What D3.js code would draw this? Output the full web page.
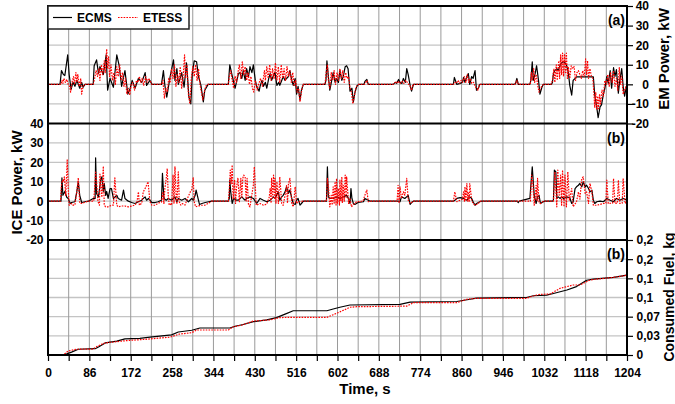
<!DOCTYPE html>
<html><head><meta charset="utf-8">
<script src="https://cdn.jsdelivr.net/npm/d3@7"></script>
<style>
html,body{margin:0;padding:0;background:#fff;}
svg text{font-family:"Liberation Sans",Arial,Helvetica,sans-serif;font-weight:bold;fill:#000;}
</style></head><body>
<svg id="chart" width="675" height="404"></svg>
<script>
// ---- data ----
const seriesNames = ["ECMS", "ETESS"];
const timeTickLabels = [0, 86, 172, 258, 344, 430, 516, 602, 688, 774, 860, 946, 1032, 1118, 1204];
const powerTicks = [-20, -10, 0, 10, 20, 30, 40];
const fuelTicks = [0, 1 / 30, 2 / 30, 0.1, 4 / 30, 5 / 30, 0.2];
const fuelTickLabels = ["0", "0,03", "0,07", "0,1", "0,1", "0,2", "0,2"];

// EM power, kW  [time s, value]
const emECMS = [[0,0],[25,0],[28,7],[32,5],[35,4.5],[41,15],[44,5],[48,-2.5],[52,1],[56,-1],[60,2],[63,0],[66,-2],[70,1],[73,-1.5],[77,0],
[94,0],[96,9.5],[101,12.5],[105,5.5],[108,9],[115,5],[121,15],[124,-3],[129,3],[136,-1.5],[143,15],[148,9.5],[153,-1],[160,7],[166,-5],[171,-2],[175,2],[181,-2],[188,3],[195,1],[202,6],[205,-0.5],[212,2],[216,0],
[236,0],[240,7],[243,-0.5],[247,-6.5],[254,4],[261,12.5],[264,2],[268,8],[271,0],[278,6],[283,-1.5],[288,11],[293,-6.5],[297,-10],[300,5.5],[304,12],[309,11.5],[313,4],[318,-0.5],[323,-9],[326,-3],[333,0],
[375,0],[378,10],[382,5.5],[389,-2],[396,5.5],[399,6],[403,3],[406,7],[410,2],[413,8],[417,4],[420,9],[424,6],[427,10],[431,2],[434,-1],[439,-3.5],[441,-1],[445,2],[448,-1],[452,1],[455,-2],[459,3],[462,5.5],[465,2],[468,4],[472,6],[476,-0.5],[480,1],[482,-0.5],[486,2],[489,4],[493,2],[496,3],[500,4],[503,7],[507,2],[510,-0.5],[514,3],[517,-5],[520,-1],[524,-8],[527,-3],[531,0],
[576,0],[578,2],[580,12],[583,4],[586,-3],[590,2],[593,6],[597,1],[600,3],[604,1],[607,7],[611,2],[614,4],[618,9],[621,9.5],[624,8],[628,-3.5],[632,-2],[635,-9],[638,-4.5],[642,-1],[646,0],
[657,0],[659,1.5],[663,2.5],[666,0],[718,0],[722,1],[725,0.5],[729,2.5],[732,1],[736,0.5],[739,3],[743,1],[746,8],[749,5],[753,-0.5],[756,-3.5],[760,0],
[843,0],[845,3.5],[850,0],[857,0.5],[862,1],[864,3.5],[867,1],[871,4],[874,5.5],[877,0],[881,4],[884,3],[888,7],[891,-3],[895,-2],[898,0],
[971,0],[973,1.2],[975,3],[978,0],[1002,0],[1004,2],[1007,11.5],[1009,2],[1013,5.5],[1016,9.5],[1020,2],[1023,-5],[1027,-1.5],[1030,0],
[1047,0],[1049,1],[1051,5.5],[1054,7],[1058,8],[1061,7],[1065,9.8],[1068,11],[1072,11.5],[1075,11],[1078,10],[1082,6],[1085,-0.5],[1089,-5.5],[1092,2],[1096,3],[1099,3.8],[1134,3.8],[1137,-5.5],[1141,-11.5],[1144,-17],[1148,-11.5],[1151,-10.5],[1155,-5],[1158,-2],[1162,4],[1165,0.5],[1169,7],[1172,-2],[1176,8.5],[1179,4],[1182,7.5],[1186,-4.5],[1189,2],[1193,8],[1196,-1],[1199,-6],[1202,-2],[1204,0]];

const emETESS = [[0,0],[27,0],[29,2],[31,0.5],[33,3],[36,1],[39,2.5],[42,0],[45,-1],[47,-4],[50,1],[53,4],[55,0],[58,6],[60,1],[62,5],[65,-1],[68,3],[70,-5],[73,-1],[76,0],
[94,0],[97,3],[100,7],[103,4],[106,8],[108,2],[111,10],[114,5],[117,12],[119,6],[122,18],[124,8],[126,14],[128,4],[131,10],[134,2],[137,6],[140,0],[143,9],[146,4],[149,10],[152,2],[155,6],[158,-1],[161,3],[164,-5],[167,-2],[170,-5.5],[173,0],[176,1],[180,-3],[184,2],[187,1],[190,4],[193,1],[196,3],[199,-0.5],[203,4],[206,1],[209,3],[212,2],[216,0],
[236,0],[239,2],[242,-7],[245,-2],[248,-4],[251,3],[254,1],[257,8],[260,3],[263,10],[266,-1],[269,5],[272,1],[275,9],[278,-2],[281,4],[284,15],[286,3],[289,10],[292,-5],[295,-10],[298,3],[301,9],[304,4],[307,10],[310,2],[313,8],[316,0],[319,-4],[322,-8],[325,-4],[328,-1],[332,0],
[375,0],[377,4],[380,7],[383,2],[386,-2],[389,4],[392,1],[395,6],[398,10],[401,3],[404,11.5],[407,5],[410,9],[413,2],[416,6],[419,0],[422,4],[425,-2],[428,-4],[431,2],[435,-3],[438,0],[442,3],[446,-1],[450,7],[452,2],[455,9],[458,3],[461,10],[464,2],[467,8],[470,3],[473,11],[476,2],[479,9],[482,1],[485,10],[488,3],[491,8],[494,2],[497,9],[500,4],[503,7],[506,1],[509,6],[512,-1],[515,2],[518,-4],[521,-2],[524,-9],[527,-4],[530,0],
[576,0],[578,5],[581,10],[583,2],[586,-2],[589,6],[592,2],[595,7],[598,0],[601,6],[604,2],[607,8],[610,3],[613,7],[616,1],[619,6],[622,3],[625,4],[628,-2],[631,-4],[634,-10],[637,-6],[640,-2],[643,-0.5],[646,0],
[658,0],[661,1],[663,2],[666,0],[718,0],[720,0.5],[724,1.5],[727,0.5],[730,1.5],[733,0.5],[737,1.5],[740,0.5],[744,2],[747,1],[750,0],[753,-1],[756,-3],[759,0],
[843,0],[846,1],[849,0.5],[853,2],[856,0.5],[859,2],[862,1],[866,4],[869,1],[872,5],[875,1],[878,3],[881,0.5],[885,1],[888,-1],[891,-2],[894,-3],[897,0],
[972,0],[975,2],[978,0],[1003,0],[1005,6],[1007,2],[1010,8],[1012,1],[1015,5],[1018,0],[1021,-4],[1024,-2],[1027,-1],[1030,0],
[1046,0],[1049,2],[1052,8],[1054,1],[1057,10],[1059,2],[1062,12],[1064,3],[1066,15],[1068,5],[1070,16],[1072,4],[1074,15.5],[1076,6],[1078,16],[1080,3],[1082,9],[1085,3],[1088,9.5],[1091,8],[1094,9],[1097,2],[1100,6],[1103,7],[1106,5],[1109,3],[1112,7],[1115,4],[1118,13],[1120,5],[1122,12],[1124,3],[1127,8],[1130,4],[1133,3],[1135,-4],[1137,-12],[1139,-4],[1141,-13],[1143,-6],[1145,-12.5],[1147,-5],[1149,-10],[1152,-3],[1155,-6],[1158,2],[1161,0],[1164,5],[1167,-1],[1170,6],[1173,1],[1176,7],[1179,-1],[1182,3],[1185,-3],[1188,8.5],[1190,0],[1193,4],[1196,-5],[1199,-3],[1202,-1],[1204,0]];

// ICE power, kW  [time s, value]
const iceECMS = [[0,0],[27,0],[29,12],[31,3],[35,5],[39,2],[42,1.4],[46,-1.2],[49,-0.7],[56,-0.3],[60,5],[63,10],[66,3],[70,-0.7],[77,-0.3],[84,0],
[94,1.4],[98,1.4],[99,22.3],[101,4],[105,2.2],[108,8],[110,11.7],[112,12.5],[115,5],[117,9],[120,3],[122,5],[125,1.4],[129,6.5],[132,6.5],[136,1.4],[143,3],[146,1.4],[153,0.5],[157,5.7],[160,1.4],[167,0],[174,-0.7],[181,-1.2],[188,-0.3],[195,0.5],[198,1.4],[202,2.2],[205,0.5],[209,1.4],[216,-0.7],[223,-0.7],[229,-0.3],[236,0.5],[238,14.3],[241,1.4],[246,0.5],[250,1.4],[257,0.5],[264,2.2],[268,-0.3],[271,1.4],[278,0.5],[285,1.4],[292,-0.3],[299,1.4],[302,0.5],[306,3],[308,5.7],[312,1.4],[315,-1.7],[320,-1.2],[327,-0.7],[334,-0.3],[340,0],
[375,0],[377,1.4],[378,11],[380,4.8],[383,-1.2],[386,1.4],[392,0.5],[396,0.5],[403,2.2],[406,1.4],[410,0.5],[413,1.4],[420,2.2],[427,1.4],[434,-1.2],[441,1.4],[448,0.5],[455,-0.3],[462,0.5],[469,2.2],[472,1.4],[476,3.4],[479,4.8],[482,0.5],[486,2.2],[489,3],[493,4.8],[496,7.4],[500,4],[503,5.7],[507,1.4],[510,-1.2],[514,-1.7],[517,0.5],[520,1.4],[524,-2],[527,-1.2],[531,0],
[579,0],[581,17.7],[583,2.2],[586,1.4],[593,1.4],[600,2.2],[607,1.4],[614,2.2],[621,3],[625,1.4],[628,-1.2],[630,6.5],[632,1.4],[635,-1.2],[638,-1.7],[645,-0.7],[656,-0.3],[659,1.4],[666,0.5],[670,0],
[728,0],[732,-0.3],[735,2.2],[742,1.4],[749,3],[753,-1.7],[756,-0.7],[760,0],
[843,0],[846,0.5],[850,1.4],[857,1.8],[864,1.4],[871,0.5],[877,2.2],[881,1.4],[884,-0.3],[888,-2.1],[891,-1.2],[898,-0.3],[902,0],
[975,0],[978,-0.7],[980,0],[1002,1.4],[1007,17.7],[1011,3.1],[1015,-1.2],[1018,2.2],[1021,3.1],[1024,-1.2],[1030,-0.3],[1033,0],
[1049,0],[1051,0.5],[1053,16],[1056,15.1],[1058,1.4],[1061,2.2],[1065,1.4],[1068,2.2],[1072,1.4],[1078,2.2],[1085,1.8],[1089,-1.2],[1092,-0.3],[1096,6.5],[1099,7.4],[1103,8.2],[1106,9.1],[1110,7.4],[1113,10],[1117,7.4],[1120,8.2],[1124,6.5],[1127,4.8],[1131,5.7],[1134,0.5],[1137,-1.2],[1141,-0.3],[1148,0],[1155,-0.3],[1162,1.4],[1169,0.5],[1176,-0.3],[1182,1.4],[1189,0.5],[1196,1.4],[1204,0.5]];

const iceETESS = [[0,0],[26,0],[28,8.2],[30,10.8],[32,10],[34,12.5],[37,3],[40,21.6],[42,6.5],[44,-2],[46,-2],[49,-1.2],[52,-2],[56,-2],[60,5],[63,12],[66,-1],[70,-1.2],[77,-0.5],[84,0],
[95,0],[97,6.5],[99,15],[101,10],[104,-0.3],[107,-2.1],[108,14],[110,8.2],[112,2],[115,18],[117,-2.1],[120,-2.9],[125,-2.9],[132,-2.1],[136,-2],[139,12],[143,-2.1],[146,-2.9],[153,-2.5],[160,-2.5],[167,-2.9],[174,-2.5],[181,-2],[185,-0.5],[188,4.8],[190,-2.1],[195,-1],[198,4.8],[201,6],[205,8.2],[208,10],[212,-0.3],[216,-2.1],[223,-2.1],[229,-1],[236,-0.5],[239,4.8],[241,-1.2],[243,6.5],[246,12],[248,16.8],[250,3],[252,-2],[254,-1.5],[257,-2.1],[260,13.4],[262,-1],[264,17.7],[266,4.8],[268,-1.5],[271,15.1],[273,-0.3],[276,-2],[279,-1.2],[285,-2],[291,2],[296,4.8],[299,6],[302,12],[304,-0.3],[307,-2.9],[312,-2.5],[319,-2.1],[326,-2.1],[333,-1.2],[340,0],
[375,0],[377,6],[379,16],[381,9],[383,18.6],[385,1],[388,11],[390,-1.2],[392,7],[395,12],[398,-0.3],[401,11.7],[403,2],[405,11.7],[407,13.4],[410,12.5],[412,-0.3],[414,11.7],[417,-2.1],[420,-2.9],[427,8.2],[429,17.7],[433,-2.1],[441,-1.2],[448,-2.1],[455,-1.5],[460,2],[462,6.5],[464,-1],[465,11.7],[467,2],[469,13.4],[471,1],[472,11.7],[474,-1],[476,10],[479,-1.2],[482,12.5],[486,-1.2],[489,-2.1],[493,3.1],[496,8],[498,-1],[500,9],[503,11.7],[507,-1.2],[510,-2.9],[514,7.4],[517,-1.2],[520,-0.3],[531,0],
[579,0],[581,11.7],[583,8.2],[586,-2.9],[589,3],[591,-2],[593,7.4],[595,-1],[597,10],[599,-2],[600,11.7],[602,-1],[604,6.5],[606,-2],[607,10.8],[609,0],[611,12.5],[612,-1],[614,8.2],[616,0],[618,13.4],[620,2],[621,12.5],[625,-1.2],[628,1.4],[631,-2.9],[635,-1.7],[642,-0.3],[655,0],[659,3.1],[663,5.7],[666,-0.3],[670,0],
[726,0],[728,8.2],[730,-1],[732,7.4],[735,1.4],[739,4.8],[742,3.1],[746,11.7],[749,0.5],[753,-1.2],[760,0],
[843,0],[846,4.8],[850,-0.3],[857,0.5],[862,1],[864,4.8],[866,0],[867,7.4],[869,0],[871,9.1],[873,0],[874,4.8],[876,0],[877,9.1],[881,0.5],[884,-1.2],[888,-2.1],[895,-1.2],[898,0],
[1003,0],[1006,13.4],[1008,10],[1011,-2.1],[1013,2],[1015,8.2],[1017,0],[1018,11.7],[1021,-0.3],[1024,-1.2],[1030,0],
[1051,0],[1054,15.1],[1058,-2.9],[1060,16],[1063,3.1],[1066,13.4],[1068,-2.1],[1070,16],[1073,-2.9],[1075,13.4],[1078,-2.9],[1081,15.1],[1084,0.5],[1089,6.5],[1092,-2.9],[1099,-0.3],[1103,4.8],[1106,1],[1110,11.7],[1113,12.5],[1117,4],[1120,4.8],[1124,-1.2],[1127,9.1],[1131,4.8],[1134,-2.1],[1141,-2.1],[1155,-1.2],[1160,-1],[1162,10.8],[1165,-1.2],[1174,-1],[1176,11.7],[1179,-1.2],[1184,-1],[1186,10.8],[1189,-1.2],[1194,-1],[1196,11.7],[1200,-1.2],[1204,-0.3]];

// Consumed fuel, kg  [time s, value]
const fuelECMS = [[0,0],[30,0],[39,0.002],[49,0.005],[63,0.01],[98,0.011],[105,0.014],[119,0.021],[143,0.024],[160,0.028],[191,0.029],[212,0.031],[257,0.035],[271,0.04],[299,0.043],[316,0.047],[378,0.047],[389,0.05],[406,0.053],[427,0.058],[455,0.061],[475,0.065],[493,0.071],[510,0.077],[580,0.077],[593,0.08],[607,0.083],[628,0.087],[732,0.088],[753,0.092],[850,0.093],[878,0.097],[891,0.099],[995,0.1],[1009,0.103],[1037,0.104],[1051,0.107],[1079,0.113],[1099,0.119],[1120,0.130],[1134,0.132],[1176,0.135],[1204,0.139]];

const fuelETESS = [[0,0],[32,0],[42,0.007],[59,0.01],[94,0.0104],[101,0.0145],[115,0.02],[129,0.022],[163,0.025],[198,0.027],[226,0.029],[254,0.031],[274,0.0365],[299,0.0388],[309,0.0435],[375,0.0435],[385,0.049],[403,0.052],[427,0.059],[461,0.061],[482,0.065],[503,0.0655],[580,0.0655],[593,0.07],[607,0.075],[628,0.083],[642,0.084],[746,0.085],[760,0.091],[850,0.091],[871,0.097],[891,0.0986],[995,0.0986],[1009,0.1026],[1023,0.1055],[1044,0.106],[1065,0.116],[1092,0.1217],[1106,0.1217],[1127,0.1304],[1141,0.132],[1176,0.135],[1204,0.1386]];

// ---- drawing ----
const svg = d3.select("#chart");
const L = 48, R = 627;
const x = d3.scaleLinear().domain([0, 1204]).range([L, R]);
const gridTimes = d3.range(0, 1205, 43);

const seriesStyle = [
  {stroke: "#000", width: 1.2, dash: null},
  {stroke: "#ff0000", width: 1.2, dash: "1.6,1.2"}
];

const panels = [
  {top: 6, bottom: 123.5, domain: [-20, 40], ticks: powerTicks, fmt: d => String(d), side: "right", series: [emECMS, emETESS], tag: "(a)", title: "EM Power, kW"},
  {top: 123.5, bottom: 240, domain: [-20, 40], ticks: powerTicks, fmt: d => String(d), side: "left", series: [iceECMS, iceETESS], tag: "(b)", title: "ICE Power, kW"},
  {top: 240, bottom: 355, domain: [0, 0.2], ticks: fuelTicks, fmt: (d, i) => fuelTickLabels[i], side: "right", series: [fuelECMS, fuelETESS], tag: "(b)", title: "Consumed Fuel, kg"}
];

panels.forEach((p, pi) => {
  const y = d3.scaleLinear().domain(p.domain).range([p.bottom, p.top]);
  const g = svg.append("g");

  g.append("clipPath").attr("id", "clip" + pi)
    .append("rect").attr("x", L).attr("y", p.top).attr("width", R - L).attr("height", p.bottom - p.top);

  // grid
  g.selectAll("line.hg").data(p.ticks.slice(1, -1)).join("line").attr("class", "hg")
    .attr("x1", L).attr("x2", R).attr("y1", d => y(d)).attr("y2", d => y(d))
    .attr("stroke", "#c4c4c4").attr("stroke-width", 1.4);
  g.selectAll("line.vg").data(gridTimes.slice(1, -1)).join("line").attr("class", "vg")
    .attr("x1", d => x(d)).attr("x2", d => x(d)).attr("y1", p.top).attr("y2", p.bottom)
    .attr("stroke", "#9a9a9a").attr("stroke-width", 1);

  // series
  const line = d3.line().x(d => x(d[0])).y(d => y(d[1]));
  const lg = g.append("g").attr("clip-path", `url(#clip${pi})`);
  p.series.forEach((s, si) => {
    const st = seriesStyle[si];
    lg.append("path").datum(s).attr("d", line)
      .attr("fill", "none").attr("stroke", st.stroke).attr("stroke-width", st.width)
      .attr("stroke-dasharray", st.dash).attr("stroke-linejoin", "round");
  });

  // y axis
  let axis;
  if (p.side === "right") {
    axis = g.append("g").attr("transform", `translate(${R},0)`)
      .call(d3.axisRight(y).tickValues(p.ticks).tickFormat(p.fmt).tickSize(6).tickPadding(4));
    if (pi === 0) axis.selectAll("text").attr("text-anchor", "end").attr("x", 22);
    else axis.selectAll("text").attr("x", 9.5);
  } else {
    axis = g.append("g").attr("transform", `translate(${L},0)`)
      .call(d3.axisLeft(y).tickValues(p.ticks).tickFormat(p.fmt).tickSize(0).tickPadding(4.5));
  }
  axis.select(".domain").remove();
  axis.selectAll("line").attr("stroke", "#000").attr("stroke-width", 1.2);
  axis.selectAll("text").attr("font-size", 12);
  axis.attr("font-family", null);

  // panel label
  g.append("text").attr("x", 625).attr("y", p.top + 19).attr("text-anchor", "end")
    .attr("font-size", 14).text(p.tag);
});

// x axis
const xa = svg.append("g").attr("transform", "translate(0,355)")
  .call(d3.axisBottom(x).tickValues(gridTimes).tickSize(6).tickPadding(7)
    .tickFormat(d => timeTickLabels.includes(d) ? String(d) : ""));
xa.select(".domain").remove();
xa.selectAll("line").attr("stroke", "#000").attr("stroke-width", 1.2);
xa.selectAll("text").attr("font-size", 12);
xa.attr("font-family", null);

// frame and separators
svg.append("rect").attr("x", L).attr("y", 6).attr("width", R - L).attr("height", 355 - 6)
  .attr("fill", "none").attr("stroke", "#000").attr("stroke-width", 2);
[123.5, 240].forEach(v => svg.append("line").attr("x1", L).attr("x2", R).attr("y1", v).attr("y2", v)
  .attr("stroke", "#000").attr("stroke-width", 2));

// legend
const leg = svg.append("g");
leg.append("rect").attr("x", L).attr("y", 6).attr("width", 141).attr("height", 23)
  .attr("fill", "#fff").attr("stroke", "#222").attr("stroke-width", 1.5);
const legPos = [{x1: 53, x2: 72, tx: 77}, {x1: 118, x2: 138, tx: 143}];
seriesNames.forEach((n, i) => {
  const st = seriesStyle[i];
  leg.append("line").attr("x1", legPos[i].x1).attr("x2", legPos[i].x2).attr("y1", 17.5).attr("y2", 17.5)
    .attr("stroke", st.stroke).attr("stroke-width", st.width).attr("stroke-dasharray", st.dash);
  leg.append("text").attr("x", legPos[i].tx).attr("y", 22).attr("font-size", 12).text(n);
});

// axis titles
svg.append("text").attr("x", 365).attr("y", 394).attr("text-anchor", "middle").attr("font-size", 15).text("Time, s");
svg.append("text").attr("transform", "translate(669,59) rotate(-90)").attr("text-anchor", "middle").attr("font-size", 15).text(panels[0].title);
svg.append("text").attr("transform", "translate(21.5,182.5) rotate(-90)").attr("text-anchor", "middle").attr("font-size", 15).text(panels[1].title);
svg.append("text").attr("transform", "translate(673.5,297) rotate(-90)").attr("text-anchor", "middle").attr("font-size", 14).text(panels[2].title);
</script>
</body></html>
